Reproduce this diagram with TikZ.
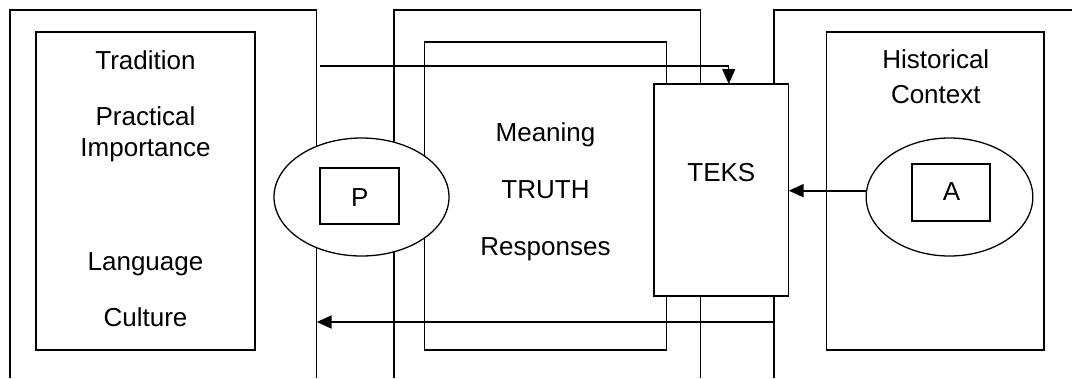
\documentclass[tikz,border=0pt]{standalone}
\usepackage{fontspec}
\setmainfont{Liberation Sans}
\usetikzlibrary{arrows.meta,shapes.geometric}
\begin{document}
\begin{tikzpicture}[x=1pt,y=-1pt,
  line width=1.3pt,
  box/.style={draw,rectangle,inner sep=0pt,outer sep=0pt},
  oval/.style={draw,ellipse,fill=white,inner sep=0pt,outer sep=0pt},
  lbl/.style={anchor=base,inner sep=0pt,font=\fontsize{26}{30}\selectfont},
  thinarrow/.style={line width=1.2pt,-{Triangle[length=15pt,width=13pt]}},
  thickarrow/.style={line width=2pt,-{Triangle[length=15pt,width=13pt]}}]
\useasboundingbox (0,0) rectangle (1072,378);
% outer frames, open at the bottom
\draw (10,378) -- (10,10) -- (316.7,10) -- (316.7,378);
\draw (394,378) -- (394,10) -- (700.7,10) -- (700.7,378);
\draw (774,378) -- (774,10) -- (1072,10);
% inner boxes
\node[box,minimum width=219pt,minimum height=318pt] (leftin) at (145.5,191) {};
\node[box,minimum width=242.4pt,minimum height=308pt] (midin) at (545.5,196) {};
\node[box,minimum width=217.3pt,minimum height=318pt] (rightin) at (935.35,191) {};
% connector coordinates
\coordinate (topstart) at (320,66);
\coordinate (botstart) at (774,322);
\coordinate (botend) at (316.7,322);
% top and bottom connectors
\draw[thickarrow] (botstart) -- (botend);
% TEKS box
\node[box,fill=white,minimum width=134.7pt,minimum height=212pt] (teks) at (721.35,190) {};
\draw[thinarrow] (topstart) -| ([xshift=7.4pt]teks.north);
% ellipses
\node[oval,minimum width=175pt,minimum height=118pt] (pell) at (361.5,197) {};
\node[box,minimum width=79pt,minimum height=56pt] (pbox) at (359.5,196) {};
\node[oval,minimum width=166.7pt,minimum height=118pt] (aell) at (949.5,197) {};
\node[box,minimum width=78pt,minimum height=57pt] (abox) at (951,192.5) {};
\draw[thickarrow] ([yshift=6.3pt]aell.west) -- ([yshift=6.3pt]aell.west -| teks.east);
% texts
\node[lbl] (t1) at (145.5,69.3) {Tradition};
\node[lbl] (t2) at (145.5,125) {Practical};
\node[lbl] (t3) at (145.5,156) {Importance};
\node[lbl] (t4) at (145.5,270.7) {Language};
\node[lbl] (t5) at (145.5,326) {Culture};
\node[lbl] (m1) at (545.5,141) {Meaning};
\node[lbl] (m2) at (545.5,198.3) {TRUTH};
\node[lbl] (m3) at (545.5,255) {Responses};
\node[lbl] (k1) at (721.35,181) {TEKS};
\node[lbl] (h1) at (935.8,68.3) {Historical};
\node[lbl] (h2) at (935.8,103) {Context};
\node[lbl] (pl) at (359.7,206.7) {P};
\node[lbl] (al) at (951.5,200) {A};
\end{tikzpicture}
\end{document}
